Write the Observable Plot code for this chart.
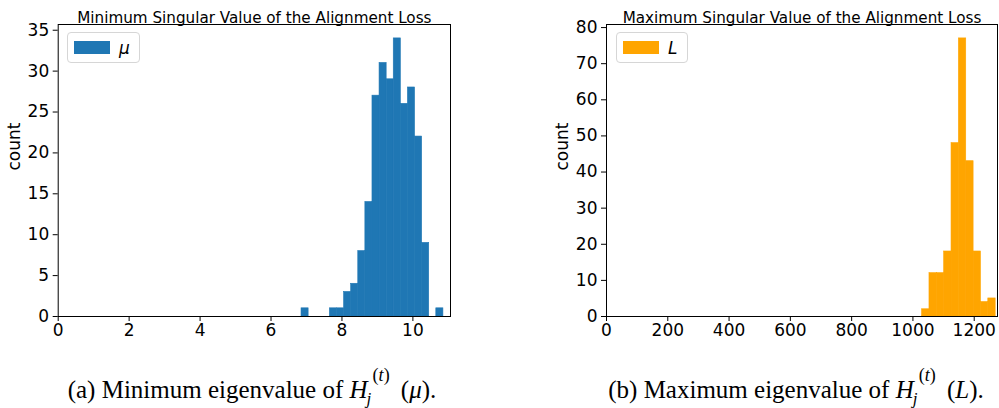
<!DOCTYPE html>
<html><head><meta charset="utf-8">
<script src="https://cdn.jsdelivr.net/npm/d3@7"></script>
<script src="https://cdn.jsdelivr.net/npm/@observablehq/plot@0.6"></script>
<style>
body{margin:0;background:#fff;}
#fig{position:relative;width:999px;height:408px;overflow:hidden;font-family:"DejaVu Sans",sans-serif;background:#fff;}
.panel{position:absolute;top:0;}
.legend{position:absolute;border:1px solid #d6d6d6;border-radius:4px;background:rgba(255,255,255,0.85);box-sizing:border-box;}
.swatch{position:absolute;}
.ltext{position:absolute;font-style:italic;font-size:17px;line-height:17px;color:#000;font-family:"DejaVu Sans",sans-serif;}
.caption{position:absolute;font-family:"Liberation Serif","Times New Roman",serif;font-size:25px;line-height:1;color:#000;white-space:nowrap;transform:translateX(-50%);}
.scr{display:inline-block;position:relative;width:27px;height:1px;}
.scr .sup{position:absolute;left:5px;top:-31px;font-size:18px;line-height:18px;}
.scr .sub{position:absolute;left:-1px;top:-7px;font-size:17px;line-height:17px;}
</style>
</head><body>
<div id="fig"></div>
<script>
// ---- data ----
const muEdges = [6.86, 7.06, 7.26, 7.46, 7.66, 7.86, 8.06, 8.26, 8.46, 8.66, 8.86, 9.06, 9.26, 9.46, 9.66, 9.86, 10.06, 10.26, 10.46, 10.66, 10.86];
const muCounts = [1, 0, 0, 0, 1, 1, 3, 4, 8, 14, 27, 31, 29, 34, 26, 28, 22, 9, 0, 1];
const LEdges = [1030, 1054, 1078, 1102, 1126, 1150, 1174, 1198, 1222, 1246, 1270];
const LCounts = [2, 12, 12, 18, 48, 77, 43, 18, 4, 5];
const muXTicks = [0, 2, 4, 6, 8, 10];
const muYTicks = [0, 5, 10, 15, 20, 25, 30, 35];
const LXTicks = [0, 200, 400, 600, 800, 1000, 1200];
const LYTicks = [0, 10, 20, 30, 40, 50, 60, 70, 80];
const titles = ["Minimum Singular Value of the Alignment Loss", "Maximum Singular Value of the Alignment Loss"];
const legendLabels = ["μ", "L"];
const yLabel = "count";

function rows(edges, counts) {
  return counts.map((c, i) => ({x1: edges[i], x2: edges[i + 1], count: c})).filter(d => d.count > 0);
}

function panel({data, color, xDomain, yDomain, xTicks, yTicks, title, left, width, ml, mr}) {
  const svg = Plot.plot({
    width, height: 340,
    marginLeft: ml, marginRight: mr, marginTop: 24, marginBottom: 24,
    style: {fontFamily: "DejaVu Sans, sans-serif", color: "#000", background: "transparent", overflow: "visible"},
    x: {domain: xDomain},
    y: {domain: yDomain},
    marks: [
      Plot.rectY(data, {x1: "x1", x2: "x2", y: "count", fill: color, stroke: color, strokeWidth: 0.6, inset: 0}),
      Plot.frame({stroke: "#000", strokeWidth: 1}),
      Plot.axisX({ticks: xTicks, tickSize: 5, tickPadding: 2, fontSize: 17, label: null, tickFormat: d => String(d)}),
      Plot.axisY({ticks: yTicks, tickSize: 5, tickPadding: 4, fontSize: 17, label: null, tickFormat: d => String(d)}),
      Plot.text([title], {frameAnchor: "top", dy: -12, fontSize: 15.2, fill: "#000"}),
      Plot.text([yLabel], {frameAnchor: "left", dx: -44, rotate: -90, fontSize: 17, fill: "#000"})
    ]
  });
  svg.classList.add("panel");
  svg.style.left = left + "px";
  return svg;
}

const fig = document.getElementById("fig");
fig.appendChild(panel({data: rows(muEdges, muCounts), color: "#1f77b4", xDomain: [0, 11.06], yDomain: [0, 35.7],
  xTicks: muXTicks, yTicks: muYTicks, title: titles[0], left: 0, width: 500, ml: 57.7, mr: 50}));
fig.appendChild(panel({data: rows(LEdges, LCounts), color: "orange", xDomain: [0, 1276], yDomain: [0, 80.85],
  xTicks: LXTicks, yTicks: LYTicks, title: titles[1], left: 549, width: 450, ml: 57, mr: 2}));

function legend(x, y, w, color, label) {
  const box = document.createElement("div");
  box.className = "legend";
  Object.assign(box.style, {left: x + "px", top: y + "px", width: w + "px", height: "31px"});
  const sw = document.createElement("div");
  sw.className = "swatch";
  Object.assign(sw.style, {left: "6px", top: "8px", width: "36px", height: "13px", background: color});
  const t = document.createElement("div");
  t.className = "ltext";
  t.textContent = label;
  Object.assign(t.style, {left: "51px", top: "7px"});
  box.append(sw, t);
  fig.appendChild(box);
}
legend(67, 32, 73, "#1f77b4", legendLabels[0]);
legend(616, 32, 72, "orange", legendLabels[1]);

function caption(cx, letter, name, sym) {
  const c = document.createElement("div");
  c.className = "caption";
  c.style.left = cx + "px";
  c.style.top = "377px";
  c.innerHTML = `(${letter}) ${name} eigenvalue of <i>H</i><span class="scr"><span class="sup">(<i>t</i>)</span><span class="sub"><i>j</i></span></span> (<i>${sym}</i>).`;
  fig.appendChild(c);
}
caption(252, "a", "Minimum", "μ");
caption(796, "b", "Maximum", "L");
</script>
</body></html>
